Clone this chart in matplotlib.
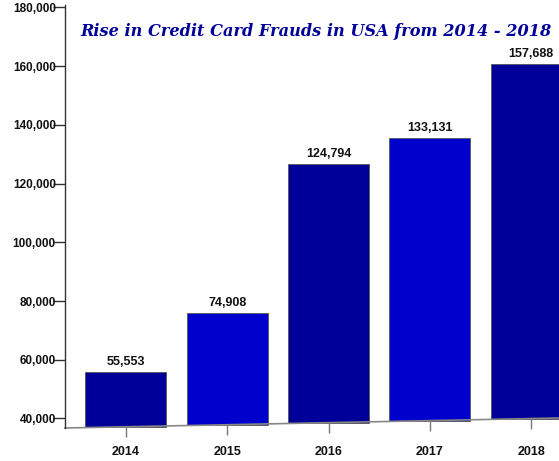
import numpy as np
import matplotlib
matplotlib.use("Agg")
import matplotlib.pyplot as plt
from matplotlib.transforms import Affine2D
from matplotlib.ticker import StrMethodFormatter

# data
years = ["2014", "2015", "2016", "2017", "2018"]
frauds = [55553, 74908, 124794, 133131, 157688]
bar_colors = ["#000099", "#0000CC", "#000099", "#0000CC", "#000099"]
y_ticks = [40000, 60000, 80000, 100000, 120000, 140000, 160000, 180000]
title = "Rise in Credit Card Frauds in USA from 2014 - 2018"

Y_MIN, Y_MAX = 36760, 180850

fig = plt.figure(figsize=(5.59, 4.61), dpi=100)
ax = fig.add_axes([65 / 559, 33 / 461, 527 / 559, 423 / 461])
ax.set_xlim(-0.6, 4.6)
ax.set_ylim(Y_MIN, Y_MAX)

# the original picture is slightly sheared: the base rises to the right
x0 = 65
k = 10 / 494
skew = Affine2D().translate(-x0, 0).skew(0, np.arctan(k)).translate(x0, 0)


def lift(xd):
    # vertical shift (pixels) of a bar centred at data x
    px = ax.transData.transform((xd, Y_MIN))[0]
    return Affine2D().translate(0, k * (px - x0))


x = np.arange(len(years))
heights = np.array(frauds) - Y_MIN
bars = ax.bar(x, heights, bottom=Y_MIN, width=0.8, color=bar_colors,
              edgecolor="#555555", linewidth=0.6, clip_on=False)
for i, b in enumerate(bars):
    b.set_transform(ax.transData + lift(i))

for i, v in enumerate(frauds):
    ax.annotate(f"{v:,}", xy=(i, v), xycoords=ax.transData + lift(i),
                xytext=(0, 5), textcoords="offset points",
                ha="center", va="baseline", fontsize=9, fontweight="bold",
                family="Liberation Sans", color="#111111")

ax.set_xticks(x)
ax.set_xticklabels(years)
ax.set_yticks(y_ticks)
ax.yaxis.set_major_formatter(StrMethodFormatter("{x:,.0f}"))

for s in ["top", "right", "bottom"]:
    ax.spines[s].set_visible(False)
ax.spines["left"].set_color("#333333")
ax.spines["left"].set_linewidth(1)

# slanted base line
ax.plot([0, 1], [0, 0], transform=ax.transAxes + skew, color="#888888",
        lw=1.2, clip_on=False)

ax.tick_params(axis="y", direction="out", length=8.6, width=1, color="#333333",
               pad=-2, labelsize=8.5)
ax.tick_params(axis="x", direction="out", length=7.2, width=1, color="#777777",
               pad=6, labelsize=9)
for t in ax.xaxis.get_major_ticks():
    t.tick1line.set_transform(t.tick1line.get_transform() + skew)
for lab in ax.get_xticklabels() + ax.get_yticklabels():
    lab.set_fontweight("bold")
    lab.set_family("Liberation Sans")
    lab.set_color("#111111")

fig.text(0.565, 0.931, title, ha="center", va="center", fontsize=11.6,
         family="DejaVu Serif", fontweight="bold", style="italic",
         color="#000099")

fig.savefig("out.png", dpi=100)
